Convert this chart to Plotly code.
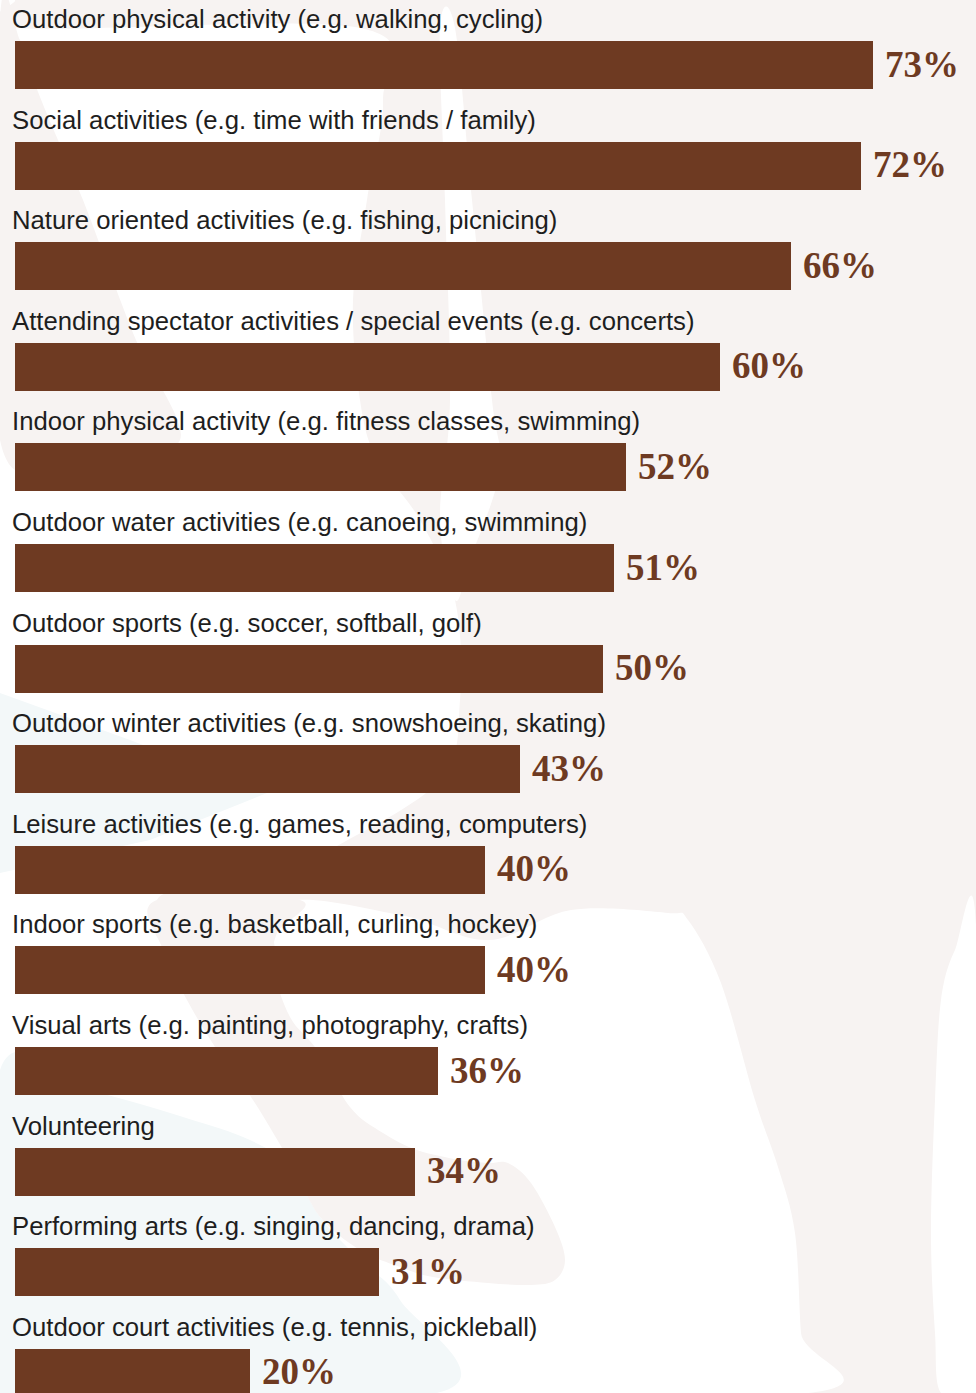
import plotly.graph_objects as go

# Survey results: share of respondents interested in each activity type
activities = [
    "Outdoor physical activity (e.g. walking, cycling)",
    "Social activities (e.g. time with friends / family)",
    "Nature oriented activities (e.g. fishing, picnicing)",
    "Attending spectator activities / special events (e.g. concerts)",
    "Indoor physical activity (e.g. fitness classes, swimming)",
    "Outdoor water activities (e.g. canoeing, swimming)",
    "Outdoor sports (e.g. soccer, softball, golf)",
    "Outdoor winter activities (e.g. snowshoeing, skating)",
    "Leisure activities (e.g. games, reading, computers)",
    "Indoor sports (e.g. basketball, curling, hockey)",
    "Visual arts (e.g. painting, photography, crafts)",
    "Volunteering",
    "Performing arts (e.g. singing, dancing, drama)",
    "Outdoor court activities (e.g. tennis, pickleball)",
]
percent = [73, 72, 66, 60, 52, 51, 50, 43, 40, 40, 36, 34, 31, 20]

W, H = 976, 1393
BAR_COLOR = "#6E3A22"
BEIGE = "#F7F3F2"
CYAN = "#F3F8F9"
WHITE = "#FFFFFF"

# pixel layout of the rows
ROW_TOP = 65.0      # centre of first bar
ROW_STEP = 100.6    # distance between bar centres
PX_PER_PCT = 11.755
X_ORIGIN = 14.9

positions = list(range(len(activities)))


def smooth_path(pts, closed=True):
    """Catmull-Rom spline through pixel points -> SVG path in paper units."""
    def P(p):
        return (p[0] / W, 1 - p[1] / H)
    n = len(pts)
    out = "M %.5f,%.5f" % P(pts[0])
    segs = n if closed else n - 1
    for i in range(segs):
        p0 = pts[(i - 1) % n] if (closed or i > 0) else pts[i]
        p1 = pts[i]
        p2 = pts[(i + 1) % n]
        p3 = pts[(i + 2) % n] if (closed or i + 2 < n) else p2
        c1 = (p1[0] + (p2[0] - p0[0]) / 6, p1[1] + (p2[1] - p0[1]) / 6)
        c2 = (p2[0] - (p3[0] - p1[0]) / 6, p2[1] - (p3[1] - p1[1]) / 6)
        a, b, c = P(c1), P(c2), P(p2)
        out += " C %.5f,%.5f %.5f,%.5f %.5f,%.5f" % (a + b + c)
    return out + (" Z" if closed else "")


def poly_path(pts):
    s = "M " + " L ".join("%.5f,%.5f" % (x / W, 1 - y / H) for x, y in pts)
    return s + " Z"


# decorative background blobs
white_band = [(0, 0), (15, 0), (20, 28), (360, 28), (383, 100), (367, 200),
              (353, 300), (360, 400), (377, 460), (420, 520), (455, 600),
              (460, 700), (440, 780), (330, 850), (250, 890), (157, 900),
              (200, 1000), (300, 1150), (450, 1300), (460, 1393), (0, 1393)]
white_stripe = [(440, 28), (455, 28), (472, 200), (492, 400), (500, 470),
                (470, 560), (455, 600), (440, 520), (450, 400), (445, 200)]
beige_wedge = [(0, 20), (20, 40), (40, 97), (83, 200), (133, 333), (180, 440),
               (90, 445), (0, 440)]
white_leg = [(280, 905), (400, 915), (488, 940), (571, 910), (668, 913),
             (688, 920), (721, 983), (755, 1100), (778, 1167), (795, 1233),
             (801, 1333), (808, 1393), (300, 1393), (280, 1000)]
white_right = [(976, 925), (955, 950), (941, 1000), (935, 1100), (931, 1233),
               (935, 1333), (941, 1393), (976, 1393)]
cyan_wedge = [(0, 693), (130, 740), (267, 793), (150, 840), (0, 873)]
cyan_low = [(0, 1070), (100, 1093), (183, 1117), (250, 1140), (290, 1167),
            (320, 1217), (360, 1260), (400, 1300), (437, 1393), (0, 1393)]
beige_band = [(157, 900), (300, 900), (277, 933), (273, 967), (290, 1017),
              (317, 1050), (350, 1107), (383, 1133), (417, 1150), (460, 1160),
              (488, 1163), (508, 1163), (531, 1183), (555, 1227), (565, 1260),
              (555, 1280), (531, 1285), (488, 1283), (433, 1277), (400, 1267),
              (360, 1250), (320, 1217), (293, 1167), (253, 1100), (217, 1050),
              (187, 1000), (163, 950)]

shapes = []
for pts, col in [(white_band, WHITE), (white_stripe, WHITE), (beige_wedge, BEIGE),
                 (white_leg, WHITE), (white_right, WHITE), (cyan_wedge, CYAN),
                 (cyan_low, CYAN), (beige_band, BEIGE)]:
    shapes.append(dict(type="path", xref="paper", yref="paper",
                       path=poly_path(pts) if len(pts) < 6 else smooth_path(pts),
                       fillcolor=col, line=dict(width=0), layer="below"))

fig = go.Figure()
fig.add_trace(go.Bar(
    x=percent, y=positions, orientation="h", width=48 / ROW_STEP,
    marker=dict(color=BAR_COLOR, line=dict(width=0)),
    hoverinfo="skip", showlegend=False,
))

annotations = []
for pos, name, val in zip(positions, activities, percent):
    annotations.append(dict(
        x=10 / W, xref="paper", y=pos - 46 / ROW_STEP, yref="y",
        text=name, showarrow=False, xanchor="left", yanchor="middle",
        font=dict(family="Liberation Sans, Arial, sans-serif", size=25.7, color="#1E1E1E"),
    ))
    annotations.append(dict(
        x=val, xref="x", y=pos, yref="y", text=f"{val}%", showarrow=False,
        xanchor="left", yanchor="middle", xshift=10, yshift=1,
        font=dict(family="Liberation Serif, Times New Roman, serif", size=37,
                  color=BAR_COLOR, weight="bold"),
    ))

fig.update_layout(
    width=W, height=H,
    margin=dict(l=0, r=0, t=0, b=0),
    paper_bgcolor=BEIGE, plot_bgcolor="rgba(0,0,0,0)",
    shapes=shapes, annotations=annotations,
    bargap=0,
    xaxis=dict(range=[-X_ORIGIN / PX_PER_PCT, (W - X_ORIGIN) / PX_PER_PCT],
               visible=False, fixedrange=True),
    yaxis=dict(range=[(H - ROW_TOP) / ROW_STEP, -ROW_TOP / ROW_STEP],
               visible=False, fixedrange=True),
)

fig.write_html("out.html")
